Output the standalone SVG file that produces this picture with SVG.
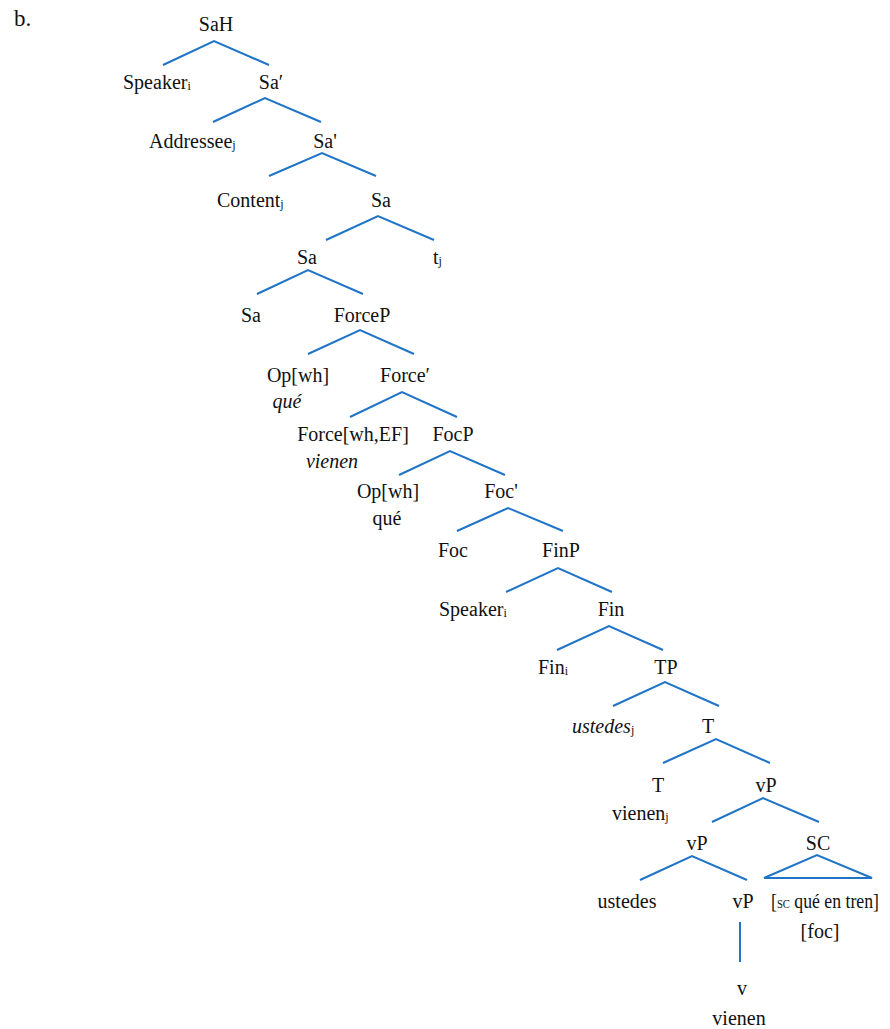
<svg xmlns="http://www.w3.org/2000/svg" width="890" height="1029" viewBox="0 0 890 1029">
<style>
text{font-family:"Liberation Serif","Times New Roman",serif;font-size:20px;fill:#111}
.m{text-anchor:middle}
.it{font-style:italic}
.sub{font-size:12px}
.sc{font-size:12px}
.big{font-size:23px}
#connectors polyline,#connectors line,#connectors polygon{fill:none;stroke:#1f74c8;stroke-width:2}
</style>
<rect width="890" height="1029" fill="#fff"/>
<g id="connectors">
<polyline points="163,65 214,41 269,65"/>
<polyline points="213,122 265,98 321,122"/>
<polyline points="269,176 322,153 376,176"/>
<polyline points="326,240 378,216 434,240"/>
<polyline points="257,294 308,270 363,294"/>
<polyline points="308,354 360,330 414,354"/>
<polyline points="350,417 402,392 457,417"/>
<polyline points="399,475 450,451 505,475"/>
<polyline points="457,531 508,508 563,531"/>
<polyline points="506,592 558,568 612,592"/>
<polyline points="557,650 609,626 663,650"/>
<polyline points="613,706 665,682 719,706"/>
<polyline points="663,763 716,739 770,763"/>
<polyline points="712,822 763,798 819,822"/>
<polyline points="640,880 692,856 747,880"/>
<polygon points="764,878 817,855 872,878"/>
<line x1="740" y1="922" x2="740" y2="962"/>
</g>
<g id="label-b"><text class="big" x="14" y="26">b.</text></g>
<g id="n-SaH"><text class="m" x="216" y="31">SaH</text></g>
<g id="n-Speaker1"><text x="123" y="89">Speaker<tspan class="sub" dy="1">i</tspan></text></g>
<g id="n-Sa-bar1"><text class="m" x="271" y="89">Sa′</text></g>
<g id="n-Addressee"><text x="149" y="148">Addressee<tspan class="sub" dy="1">j</tspan></text></g>
<g id="n-Sa-bar2"><text class="m" x="325" y="148">Sa'</text></g>
<g id="n-Content"><text x="217" y="207">Content<tspan class="sub" dy="1">j</tspan></text></g>
<g id="n-Sa1"><text class="m" x="381" y="207">Sa</text></g>
<g id="n-Sa2"><text class="m" x="307" y="264">Sa</text></g>
<g id="n-t"><text x="433" y="264">t<tspan class="sub" dy="1">j</tspan></text></g>
<g id="n-Sa3"><text class="m" x="251" y="322">Sa</text></g>
<g id="n-ForceP"><text class="m" x="362" y="322">ForceP</text></g>
<g id="n-Op1"><text class="m" x="298" y="382">Op[wh]</text><text class="m it" x="287" y="408">qué</text></g>
<g id="n-Force-bar"><text class="m" x="405" y="382">Force′</text></g>
<g id="n-Force"><text class="m" x="353" y="441">Force[wh,EF]</text><text class="m it" x="332" y="468">vienen</text></g>
<g id="n-FocP"><text class="m" x="453" y="441">FocP</text></g>
<g id="n-Op2"><text class="m" x="388" y="498">Op[wh]</text><text class="m" x="387" y="525">qué</text></g>
<g id="n-Foc-bar"><text class="m" x="501" y="498">Foc'</text></g>
<g id="n-Foc"><text class="m" x="453" y="557">Foc</text></g>
<g id="n-FinP"><text class="m" x="561" y="557">FinP</text></g>
<g id="n-Speaker2"><text x="439" y="616">Speaker<tspan class="sub" dy="1">i</tspan></text></g>
<g id="n-Fin-bar"><text class="m" x="611" y="616">Fin</text></g>
<g id="n-Fin"><text x="538" y="674">Fin<tspan class="sub" dy="1">i</tspan></text></g>
<g id="n-TP"><text class="m" x="666" y="674">TP</text></g>
<g id="n-ustedes1"><text x="572" y="733"><tspan class="it">ustedes</tspan><tspan class="sub" dy="1">j</tspan></text></g>
<g id="n-T-bar"><text class="m" x="708" y="733">T</text></g>
<g id="n-T"><text class="m" x="658" y="792">T</text><text x="612" y="820">vienen<tspan class="sub" dy="1">j</tspan></text></g>
<g id="n-vP1"><text class="m" x="766" y="792">vP</text></g>
<g id="n-vP2"><text class="m" x="697" y="850">vP</text></g>
<g id="n-SC"><text class="m" x="818" y="850">SC</text><text class="m" x="825" y="908" textLength="108" lengthAdjust="spacingAndGlyphs">[<tspan class="sc">SC</tspan> qué en tren]</text><text class="m" x="820" y="938">[foc]</text></g>
<g id="n-ustedes2"><text class="m" x="627" y="908">ustedes</text></g>
<g id="n-vP3"><text class="m" x="743" y="908">vP</text></g>
<g id="n-v"><text class="m" x="742" y="995">v</text><text class="m" x="739" y="1025">vienen</text></g>
</svg>
